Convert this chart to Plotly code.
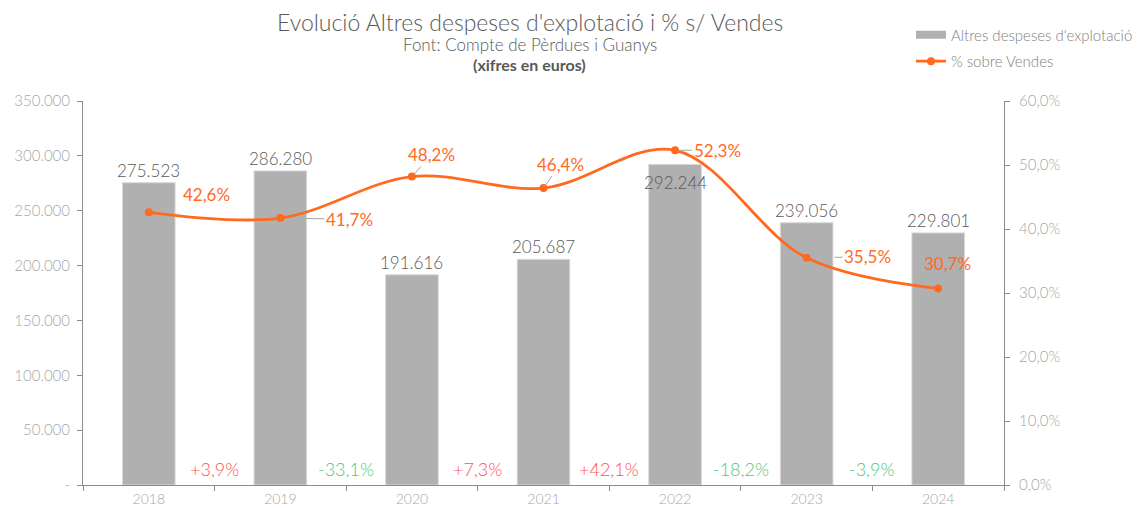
import plotly.graph_objects as go

years = ["2018", "2019", "2020", "2021", "2022", "2023", "2024"]
despeses = [275523, 286280, 191616, 205687, 292244, 239056, 229801]
pct_vendes = [42.6, 41.7, 48.2, 46.4, 52.3, 35.5, 30.7]
growth = ["+3,9%", "-33,1%", "+7,3%", "+42,1%", "-18,2%", "-3,9%"]
left_ticks = [0, 50000, 100000, 150000, 200000, 250000, 300000, 350000]
left_ticktext = ["-", "50.000", "100.000", "150.000", "200.000", "250.000", "300.000", "350.000"]
right_ticks = [0, 10, 20, 30, 40, 50, 60]

FONT = "Lato"
ORANGE = "#FF6A1F"
BAR = "#B0B0B0"
GRAY_TXT = "#595959"
AXIS_TXT = "#A6A6A6"
AXIS_LINE = "#8C8C8C"

fig = go.Figure()
fig.add_trace(go.Bar(
    x=years, y=despeses, name="Altres despeses d'explotació",
    marker=dict(color=BAR, line=dict(color="#D9D9D9", width=1)),
    yaxis="y", showlegend=False,
))
# legend-only entry drawn as a wide grey swatch (like the reference legend)
fig.add_trace(go.Scatter(
    x=[None], y=[None], name="Altres despeses d'explotació", mode="lines",
    line=dict(color=BAR, width=8), legendgroup="a", showlegend=True,
))
fig.add_trace(go.Scatter(
    x=years, y=pct_vendes, name="% sobre Vendes", yaxis="y2",
    mode="lines+markers", legendgroup="b",
    line=dict(color=ORANGE, width=2.8, shape="spline", smoothing=1),
    marker=dict(color=ORANGE, size=8),
))

def fmt_thousands(v):
    return f"{v:,}".replace(",", ".")

def fmt_pct(v):
    return f"{v:.1f}".replace(".", ",") + "%"

annotations = []
# bar value labels
for i, v in enumerate(despeses):
    inside = (i == 4)
    annotations.append(dict(
        x=i, y=v, xref="x", yref="y", text=fmt_thousands(v), showarrow=False,
        yanchor="top" if inside else "bottom", yshift=-6 if inside else 0,
        font=dict(family=FONT, size=17, color=GRAY_TXT, weight=300),
    ))

# line labels: (ax, ay, arrow, standoff)
label_pos = [
    (58, -18, False, 0),
    (69, 1, True, 26),
    (20, -22, True, 3),
    (17, -24, True, 3),
    (42, 0, True, 5),
    (61, -1, True, 28),
    (9, -25, False, 0),
]
for i, (v, (ax, ay, arr, so)) in enumerate(zip(pct_vendes, label_pos)):
    annotations.append(dict(
        x=i, y=v, xref="x", yref="y2", text=fmt_pct(v),
        showarrow=True, arrowhead=0, arrowwidth=1,
        arrowcolor="#A6A6A6" if arr else "rgba(0,0,0,0)",
        standoff=so, ax=ax, ay=ay,
        font=dict(family=FONT, size=17, color=ORANGE),
    ))

# growth labels between categories
for i, g in enumerate(growth):
    col = "#FF4F4F" if g.startswith("+") else "#4CC77A"
    annotations.append(dict(
        x=i + 0.5, y=0, xref="x", yref="y", text=g, showarrow=False,
        yanchor="bottom", yshift=3,
        font=dict(family=FONT, size=18, color=col, weight=300),
    ))

# titles
annotations += [
    dict(x=0.485, y=1.206, xref="paper", yref="paper", yanchor="middle",
         text="Evolució Altres despeses d'explotació i % s/ Vendes", showarrow=False,
         font=dict(family=FONT, size=23, color=GRAY_TXT, weight=300)),
    dict(x=0.485, y=1.146, xref="paper", yref="paper", yanchor="middle",
         text="Font: Compte de Pèrdues i Guanys", showarrow=False,
         font=dict(family=FONT, size=17, color=GRAY_TXT, weight=300)),
    dict(x=0.485, y=1.094, xref="paper", yref="paper", yanchor="middle",
         text="<b>(xifres en euros)</b>", showarrow=False,
         font=dict(family=FONT, size=16, color=GRAY_TXT)),
]

fig.update_layout(
    width=1132, height=500,
    margin=dict(l=75, r=136, t=93, b=23, autoexpand=False),
    paper_bgcolor="white", plot_bgcolor="white",
    separators=",.",
    bargap=0.6,
    showlegend=True,
    legend=dict(x=0.899, y=1.215, xanchor="left", yanchor="top",
                font=dict(family=FONT, size=15, color="#808080", weight=300),
                bgcolor="rgba(0,0,0,0)", tracegroupgap=4),
    font=dict(family=FONT),
    xaxis=dict(type="category", range=[-0.5, 6.5], showline=True, linecolor=AXIS_LINE, linewidth=1,
               ticks="outside", tickson="boundaries", ticklen=5, tickcolor=AXIS_LINE,
               ticklabelstandoff=1,
               tickfont=dict(family=FONT, size=14, color=AXIS_TXT, weight=300), showgrid=False),
    yaxis=dict(range=[0, 350000], tickvals=left_ticks, ticktext=left_ticktext,
               showline=True, linecolor=AXIS_LINE, ticks="outside", ticklen=5,
               ticklabelstandoff=4,
               tickcolor=AXIS_LINE, showgrid=False, zeroline=False,
               tickfont=dict(family=FONT, size=15, color=AXIS_TXT, weight=300)),
    yaxis2=dict(range=[0, 60], overlaying="y", side="right", tickvals=right_ticks,
                ticktext=[fmt_pct(t) for t in right_ticks], showline=True, linecolor=AXIS_LINE,
                ticks="outside", ticklen=5, tickcolor=AXIS_LINE, showgrid=False, zeroline=False,
                ticklabelstandoff=6,
                tickfont=dict(family=FONT, size=15, color=AXIS_TXT, weight=300)),
    annotations=annotations,
)

fig.write_html("out.html")
